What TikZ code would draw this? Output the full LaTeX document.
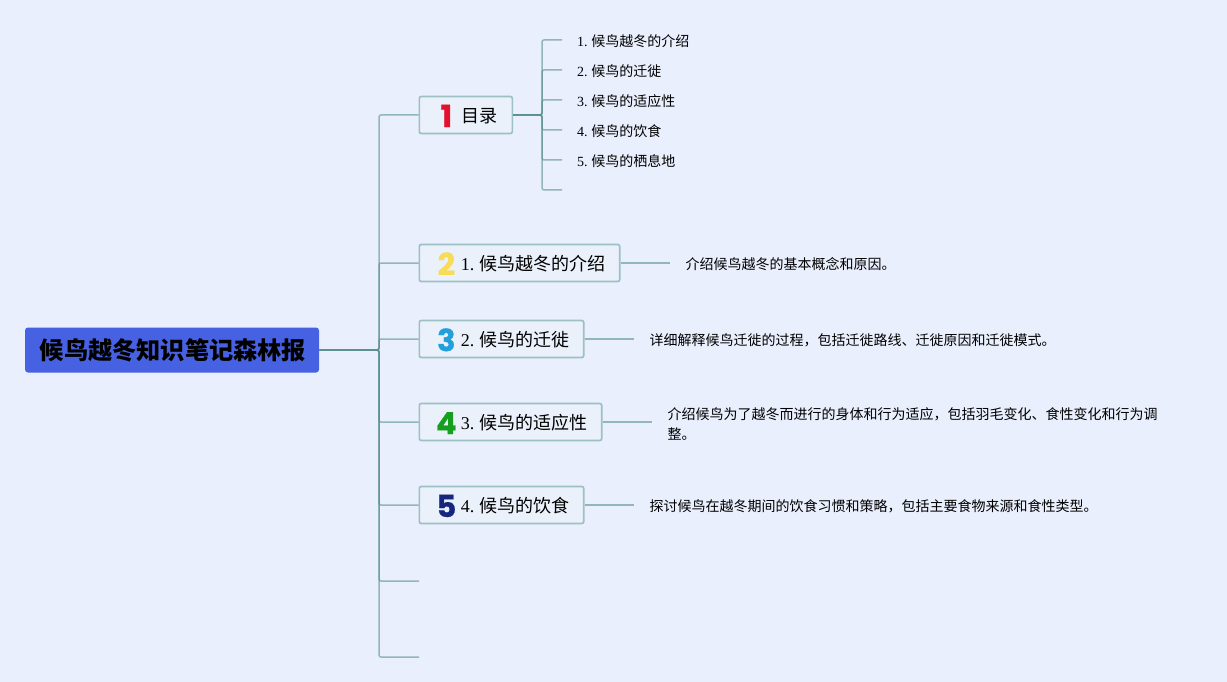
\documentclass[tikz,border=0pt]{standalone}
\usepackage{fontspec}
\setmainfont{Liberation Serif}
\newfontfamily\cjk{Noto Sans CJK SC}
\newfontfamily\digitfont[BoldFeatures={FakeBold=0.8}]{Poppins}
\definecolor{pagebg}{HTML}{E9EFFD}
\definecolor{boxbg}{HTML}{EBF1FB}
\definecolor{rootbg}{HTML}{4661E2}
\definecolor{linkcol}{HTML}{5A908C}
\definecolor{boxline}{HTML}{9CC0C4}
\definecolor{numred}{HTML}{E3102F}
\definecolor{numyellow}{HTML}{F8DC55}
\definecolor{numblue}{HTML}{22A0DC}
\definecolor{numgreen}{HTML}{14A01E}
\definecolor{numnavy}{HTML}{16267F}
\newcommand{\numicon}[2]{\makebox[17pt][c]{\raisebox{-4.6pt}{\textcolor{#1}{\fontsize{30.5}{31}\digitfont\bfseries #2}}}\hspace*{6pt}}
\newcommand{\ngap}{\hspace{.27em}}
\tikzset{
	rootbox/.style={fill=rootbg, rounded corners=3pt, inner sep=0pt, minimum width=294pt, minimum height=45pt, text height=19pt, text depth=0pt, font=\fontsize{24.2}{24}\cjk\bfseries},
	topbox/.style={draw=boxline, fill=boxbg, line width=1.7pt, rounded corners=2pt, anchor=west, minimum height=37pt, inner sep=0pt, text height=15pt, text depth=0pt, font=\fontsize{18}{18}\selectfont},
	leaf/.style={anchor=west, inner xsep=15pt, inner ysep=2pt, text height=14pt, text depth=0pt, font=\fontsize{14}{14}\selectfont},
	desc/.style={anchor=west, inner xsep=15.5pt, inner ysep=2pt, text height=12pt, text depth=0pt, font=\fontsize{14}{20}\selectfont},
	descwrap/.style={anchor=west, inner xsep=15.5pt, inner ysep=2pt, align=left, font=\fontsize{14}{20}\selectfont},
	link/.style={draw=linkcol, draw opacity=0.6, line width=1.5pt, rounded corners=2pt},
}
\begin{document}
\begin{tikzpicture}[x=1pt, y=-1pt]
\fill[pagebg] (0,0) rectangle (1227,682);

% root and the two trunks
\node[rootbox] (root) at (172,350) {\hspace*{2pt}候鸟越冬知识笔记森林报};
\coordinate (trunk) at (379,350);
\coordinate (subtrunk) at (542,115);

% first level
\node[topbox] (top_1) at (418.5,115) {\hspace*{18.5pt}\numicon{numred}{1}\hspace*{1pt}{\cjk 目录}\hspace*{14.5pt}};
\node[topbox] (top_2) at (418.5,263) {\hspace*{18.5pt}\numicon{numyellow}{2}1.\ngap{\cjk 候鸟越冬的介绍}\hspace*{14.5pt}};
\node[topbox] (top_3) at (418.5,339) {\hspace*{18.5pt}\numicon{numblue}{3}2.\ngap{\cjk 候鸟的迁徙}\hspace*{14.5pt}};
\node[topbox] (top_4) at (418.5,422) {\hspace*{18.5pt}\numicon{numgreen}{4}3.\ngap{\cjk 候鸟的适应性}\hspace*{14.5pt}};
\node[topbox] (top_5) at (418.5,505) {\hspace*{18.5pt}\numicon{numnavy}{5}4.\ngap{\cjk 候鸟的饮食}\hspace*{14.5pt}};
\coordinate (top_6) at (419,581);
\coordinate (top_7) at (419,657);

% contents list
\node[leaf] (sub_1) at (562,40) {1.\ngap{\cjk 候鸟越冬的介绍}};
\node[leaf] (sub_2) at (562,70) {2.\ngap{\cjk 候鸟的迁徙}};
\node[leaf] (sub_3) at (562,100) {3.\ngap{\cjk 候鸟的适应性}};
\node[leaf] (sub_4) at (562,130) {4.\ngap{\cjk 候鸟的饮食}};
\node[leaf] (sub_5) at (562,160) {5.\ngap{\cjk 候鸟的栖息地}};
\coordinate (sub_6) at (562,190);

% descriptions
\node[desc] (desc_2) at (670,263) {\cjk 介绍候鸟越冬的基本概念和原因。};
\node[desc] (desc_3) at (634,339) {\cjk 详细解释候鸟迁徙的过程，包括迁徙路线、迁徙原因和迁徙模式。};
\node[descwrap] (desc_4) at (652,422) {\rule{0pt}{16pt}\cjk 介绍候鸟为了越冬而进行的身体和行为适应，包括羽毛变化、食性变化和行为调\\\cjk 整。};
\node[desc] (desc_5) at (634,505) {\cjk 探讨候鸟在越冬期间的饮食习惯和策略，包括主要食物来源和食性类型。};

% links
\foreach \n in {1,...,5}
\draw[link] (root.east) -- (trunk) |- (top_\n.west);
\draw[link] (root.east) -- (trunk) |- (top_6);
\draw[link] (root.east) -- (trunk) |- (top_7);
\foreach \n in {1,...,5}
\draw[link] (top_1.east) -- (subtrunk) |- (sub_\n.west);
\draw[link] (top_1.east) -- (subtrunk) |- (sub_6);
\foreach \n in {2,...,5}
\draw[link] (top_\n.east) -- (desc_\n.west);
\end{tikzpicture}
\end{document}
